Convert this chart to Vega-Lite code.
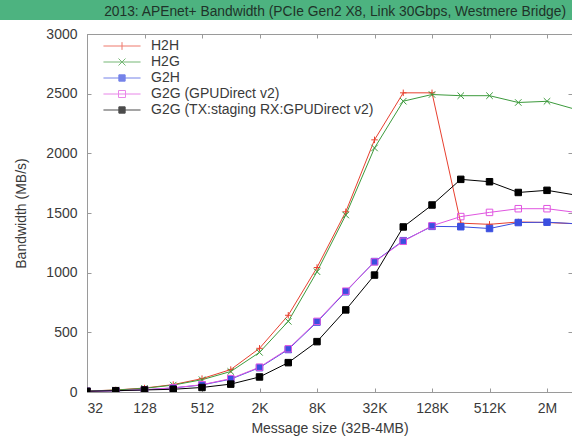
{
  "$schema": "https://vega.github.io/schema/vega-lite/v6.json",
  "width": 485,
  "height": 358,
  "autosize": "none",
  "padding": {"left": 87, "top": 34, "right": 0, "bottom": 48},
  "background": "white",
  "title": {
    "text": "2013: APEnet+ Bandwidth (PCIe Gen2 X8, Link 30Gbps, Westmere Bridge)",
    "anchor": "end", "frame": "group", "baseline": "middle", "offset": -26, "dx": -6,
    "font": "Liberation Sans", "fontSize": 13.8, "fontWeight": "normal", "color": "#1f3329"
  },
  "config": {
    "view": {"stroke": "#9a9a9a", "strokeWidth": 1},
    "axis": {
      "grid": false, "domainColor": "#9a9a9a", "tickColor": "#9a9a9a", "tickSize": -4,
      "labelFont": "Liberation Sans", "labelFontSize": 14, "labelColor": "#3a3a3a",
      "titleFont": "Liberation Sans", "titleFontSize": 14, "titleFontWeight": "normal", "titleColor": "#3a3a3a"
    }
  },
  "data": {"values": [
    {"size": 32, "series": "H2H", "bw": 8}, {"size": 64, "series": "H2H", "bw": 17}, {"size": 128, "series": "H2H", "bw": 33}, {"size": 256, "series": "H2H", "bw": 62}, {"size": 512, "series": "H2H", "bw": 112}, {"size": 1024, "series": "H2H", "bw": 188}, {"size": 2048, "series": "H2H", "bw": 366}, {"size": 4096, "series": "H2H", "bw": 643}, {"size": 8192, "series": "H2H", "bw": 1043}, {"size": 16384, "series": "H2H", "bw": 1510}, {"size": 32768, "series": "H2H", "bw": 2113}, {"size": 65536, "series": "H2H", "bw": 2507}, {"size": 131072, "series": "H2H", "bw": 2507}, {"size": 262144, "series": "H2H", "bw": 1415}, {"size": 524288, "series": "H2H", "bw": 1405}, {"size": 1048576, "series": "H2H", "bw": 1425}, {"size": 2097152, "series": "H2H", "bw": 1420}, {"size": 4194304, "series": "H2H", "bw": 1410},
    {"size": 32, "series": "H2G", "bw": 8}, {"size": 64, "series": "H2G", "bw": 16}, {"size": 128, "series": "H2G", "bw": 31}, {"size": 256, "series": "H2G", "bw": 58}, {"size": 512, "series": "H2G", "bw": 103}, {"size": 1024, "series": "H2G", "bw": 172}, {"size": 2048, "series": "H2G", "bw": 332}, {"size": 4096, "series": "H2G", "bw": 592}, {"size": 8192, "series": "H2G", "bw": 1008}, {"size": 16384, "series": "H2G", "bw": 1483}, {"size": 32768, "series": "H2G", "bw": 2045}, {"size": 65536, "series": "H2G", "bw": 2437}, {"size": 131072, "series": "H2G", "bw": 2493}, {"size": 262144, "series": "H2G", "bw": 2483}, {"size": 524288, "series": "H2G", "bw": 2483}, {"size": 1048576, "series": "H2G", "bw": 2426}, {"size": 2097152, "series": "H2G", "bw": 2436}, {"size": 4194304, "series": "H2G", "bw": 2368},
    {"size": 32, "series": "G2H", "bw": 5}, {"size": 64, "series": "G2H", "bw": 10}, {"size": 128, "series": "G2H", "bw": 18}, {"size": 256, "series": "G2H", "bw": 34}, {"size": 512, "series": "G2H", "bw": 59}, {"size": 1024, "series": "G2H", "bw": 108}, {"size": 2048, "series": "G2H", "bw": 204}, {"size": 4096, "series": "G2H", "bw": 356}, {"size": 8192, "series": "G2H", "bw": 586}, {"size": 16384, "series": "G2H", "bw": 840}, {"size": 32768, "series": "G2H", "bw": 1093}, {"size": 65536, "series": "G2H", "bw": 1268}, {"size": 131072, "series": "G2H", "bw": 1388}, {"size": 262144, "series": "G2H", "bw": 1385}, {"size": 524288, "series": "G2H", "bw": 1370}, {"size": 1048576, "series": "G2H", "bw": 1420}, {"size": 2097152, "series": "G2H", "bw": 1423}, {"size": 4194304, "series": "G2H", "bw": 1410},
    {"size": 32, "series": "G2G (GPUDirect v2)", "bw": 5}, {"size": 64, "series": "G2G (GPUDirect v2)", "bw": 10}, {"size": 128, "series": "G2G (GPUDirect v2)", "bw": 19}, {"size": 256, "series": "G2G (GPUDirect v2)", "bw": 35}, {"size": 512, "series": "G2G (GPUDirect v2)", "bw": 61}, {"size": 1024, "series": "G2G (GPUDirect v2)", "bw": 112}, {"size": 2048, "series": "G2G (GPUDirect v2)", "bw": 208}, {"size": 4096, "series": "G2G (GPUDirect v2)", "bw": 362}, {"size": 8192, "series": "G2G (GPUDirect v2)", "bw": 592}, {"size": 16384, "series": "G2G (GPUDirect v2)", "bw": 845}, {"size": 32768, "series": "G2G (GPUDirect v2)", "bw": 1090}, {"size": 65536, "series": "G2G (GPUDirect v2)", "bw": 1263}, {"size": 131072, "series": "G2G (GPUDirect v2)", "bw": 1393}, {"size": 262144, "series": "G2G (GPUDirect v2)", "bw": 1470}, {"size": 524288, "series": "G2G (GPUDirect v2)", "bw": 1505}, {"size": 1048576, "series": "G2G (GPUDirect v2)", "bw": 1536}, {"size": 2097152, "series": "G2G (GPUDirect v2)", "bw": 1536}, {"size": 4194304, "series": "G2G (GPUDirect v2)", "bw": 1505},
    {"size": 32, "series": "G2G (TX:staging RX:GPUDirect v2)", "bw": 6}, {"size": 64, "series": "G2G (TX:staging RX:GPUDirect v2)", "bw": 11}, {"size": 128, "series": "G2G (TX:staging RX:GPUDirect v2)", "bw": 17}, {"size": 256, "series": "G2G (TX:staging RX:GPUDirect v2)", "bw": 23}, {"size": 512, "series": "G2G (TX:staging RX:GPUDirect v2)", "bw": 38}, {"size": 1024, "series": "G2G (TX:staging RX:GPUDirect v2)", "bw": 66}, {"size": 2048, "series": "G2G (TX:staging RX:GPUDirect v2)", "bw": 126}, {"size": 4096, "series": "G2G (TX:staging RX:GPUDirect v2)", "bw": 246}, {"size": 8192, "series": "G2G (TX:staging RX:GPUDirect v2)", "bw": 422}, {"size": 16384, "series": "G2G (TX:staging RX:GPUDirect v2)", "bw": 688}, {"size": 32768, "series": "G2G (TX:staging RX:GPUDirect v2)", "bw": 980}, {"size": 65536, "series": "G2G (TX:staging RX:GPUDirect v2)", "bw": 1383}, {"size": 131072, "series": "G2G (TX:staging RX:GPUDirect v2)", "bw": 1567}, {"size": 262144, "series": "G2G (TX:staging RX:GPUDirect v2)", "bw": 1782}, {"size": 524288, "series": "G2G (TX:staging RX:GPUDirect v2)", "bw": 1762}, {"size": 1048576, "series": "G2G (TX:staging RX:GPUDirect v2)", "bw": 1672}, {"size": 2097152, "series": "G2G (TX:staging RX:GPUDirect v2)", "bw": 1690}, {"size": 4194304, "series": "G2G (TX:staging RX:GPUDirect v2)", "bw": 1650}
  ]},
  "layer": [
    {
      "mark": {"type": "rect", "color": "#4db380", "clip": false},
      "encoding": {
        "x": {"datum": 3.5, "type": "quantitative", "scale": {"type": "log", "base": 2, "domain": [32, 3830000], "nice": false, "zero": false}, "axis": null},
        "x2": {"datum": 4300000},
        "y": {"datum": 3285, "type": "quantitative", "scale": {"domain": [0, 3000], "nice": false, "zero": false}, "axis": null},
        "y2": {"datum": 3117}
      }
    },
    {
      "mark": {"type": "line", "strokeWidth": 1, "clip": true},
      "encoding": {
        "x": {"field": "size", "type": "quantitative", "scale": {"type": "log", "base": 2, "domain": [32, 3830000], "nice": false, "zero": false},
          "axis": {"orient": "bottom", "values": [32, 128, 512, 2048, 8192, 32768, 131072, 524288, 2097152],
            "labelExpr": "datum.value >= 1048576 ? (datum.value / 1048576) + 'M' : datum.value >= 1024 ? (datum.value / 1024) + 'K' : '' + datum.value",
            "labelPadding": 13, "title": "Message size (32B-4MB)", "titlePadding": 6}},
        "y": {"field": "bw", "type": "quantitative", "scale": {"domain": [0, 3000], "nice": false, "zero": false},
          "axis": {"orient": "left", "values": [0, 500, 1000, 1500, 2000, 2500, 3000], "format": "d", "labelPadding": 14, "title": "Bandwidth (MB/s)", "titlePadding": 17}},
        "color": {"field": "series", "type": "nominal",
          "scale": {"domain": ["H2H", "H2G", "G2H", "G2G (GPUDirect v2)", "G2G (TX:staging RX:GPUDirect v2)"],
                    "range": ["#e8402f", "#3c9a3c", "#3b4fe0", "#e055e0", "#000000"]},
          "legend": null},
        "detail": {"field": "series"}
      }
    },
    {
      "mark": {"type": "point", "filled": false, "strokeWidth": 1, "size": 42, "opacity": 1, "clip": true},
      "encoding": {
        "x": {"field": "size", "type": "quantitative", "scale": {"type": "log", "base": 2, "domain": [32, 3830000], "nice": false, "zero": false},
          "axis": {"orient": "top", "values": [32, 128, 512, 2048, 8192, 32768, 131072, 524288, 2097152], "labels": false, "title": null}},
        "y": {"field": "bw", "type": "quantitative", "scale": {"domain": [0, 3000], "nice": false, "zero": false},
          "axis": {"orient": "right", "values": [0, 500, 1000, 1500, 2000, 2500, 3000], "labels": false, "title": null}},
        "color": {"field": "series", "type": "nominal", "legend": null},
        "shape": {"field": "series", "type": "nominal",
          "scale": {"domain": ["H2H", "H2G", "G2H", "G2G (GPUDirect v2)", "G2G (TX:staging RX:GPUDirect v2)"],
                    "range": ["M-1,0H1M0,-1V1", "M-1,-1L1,1M-1,1L1,-1", "square", "square", "square"]},
          "legend": null},
        "fill": {"field": "series", "type": "nominal",
          "scale": {"domain": ["H2H", "H2G", "G2H", "G2G (GPUDirect v2)", "G2G (TX:staging RX:GPUDirect v2)"],
                    "range": ["transparent", "transparent", "#3b4fe0", "transparent", "#000000"]},
          "legend": null}
      }
    },
    {
      "transform": [{"filter": "false"}],
      "mark": {"type": "point", "filled": false, "strokeWidth": 1},
      "encoding": {
        "shape": {"field": "series", "type": "nominal",
          "scale": {"domain": ["H2H", "H2G", "G2H", "G2G (GPUDirect v2)", "G2G (TX:staging RX:GPUDirect v2)"],
                    "range": ["M-5.3,0H5.3M0,-1.1V1.1", "M-5.3,0H5.3M-1,-1L1,1M-1,1L1,-1", "M-5.3,0H5.3M-0.9,-0.9H0.9V0.9H-0.9Z", "M-5.3,0H5.3M-1,-1H1V1H-1Z", "M-5.3,0H5.3M-0.9,-0.9H0.9V0.9H-0.9Z"]},
          "legend": {
            "title": null, "orient": "none", "legendX": 28, "legendY": 5,
            "symbolSize": 49, "symbolStrokeWidth": 1, "symbolFillColor": "transparent", "labelOffset": 22, "labelLimit": 0, "rowPadding": 2, "padding": 0,
            "labelFont": "Liberation Sans", "labelFontSize": 14, "labelColor": "#3a3a3a"
          }},
        "stroke": {"field": "series", "type": "nominal",
          "scale": {"domain": ["H2H", "H2G", "G2H", "G2G (GPUDirect v2)", "G2G (TX:staging RX:GPUDirect v2)"],
                    "range": ["#e8402f", "#3c9a3c", "#3b4fe0", "#e055e0", "#000000"]},
          "legend": {
            "title": null, "orient": "none", "legendX": 28, "legendY": 5,
            "symbolSize": 49, "symbolStrokeWidth": 1, "symbolFillColor": "transparent", "labelOffset": 22, "labelLimit": 0, "rowPadding": 2, "padding": 0,
            "labelFont": "Liberation Sans", "labelFontSize": 14, "labelColor": "#3a3a3a"
          }},
        "fill": {"field": "series", "type": "nominal",
          "scale": {"domain": ["H2H", "H2G", "G2H", "G2G (GPUDirect v2)", "G2G (TX:staging RX:GPUDirect v2)"],
                    "range": ["transparent", "transparent", "#3b4fe0", "transparent", "#000000"]},
          "legend": {
            "title": null, "orient": "none", "legendX": 28, "legendY": 5,
            "symbolSize": 49, "symbolStrokeWidth": 1, "symbolFillColor": "transparent", "labelOffset": 22, "labelLimit": 0, "rowPadding": 2, "padding": 0,
            "labelFont": "Liberation Sans", "labelFontSize": 14, "labelColor": "#3a3a3a"
          }}
      }
    }
  ],
  "resolve": {
    "scale": {"shape": "independent", "stroke": "independent", "fill": "independent"},
    "legend": {"shape": "independent", "stroke": "independent", "fill": "independent"},
    "axis": {"x": "independent", "y": "independent"}
  }
}
